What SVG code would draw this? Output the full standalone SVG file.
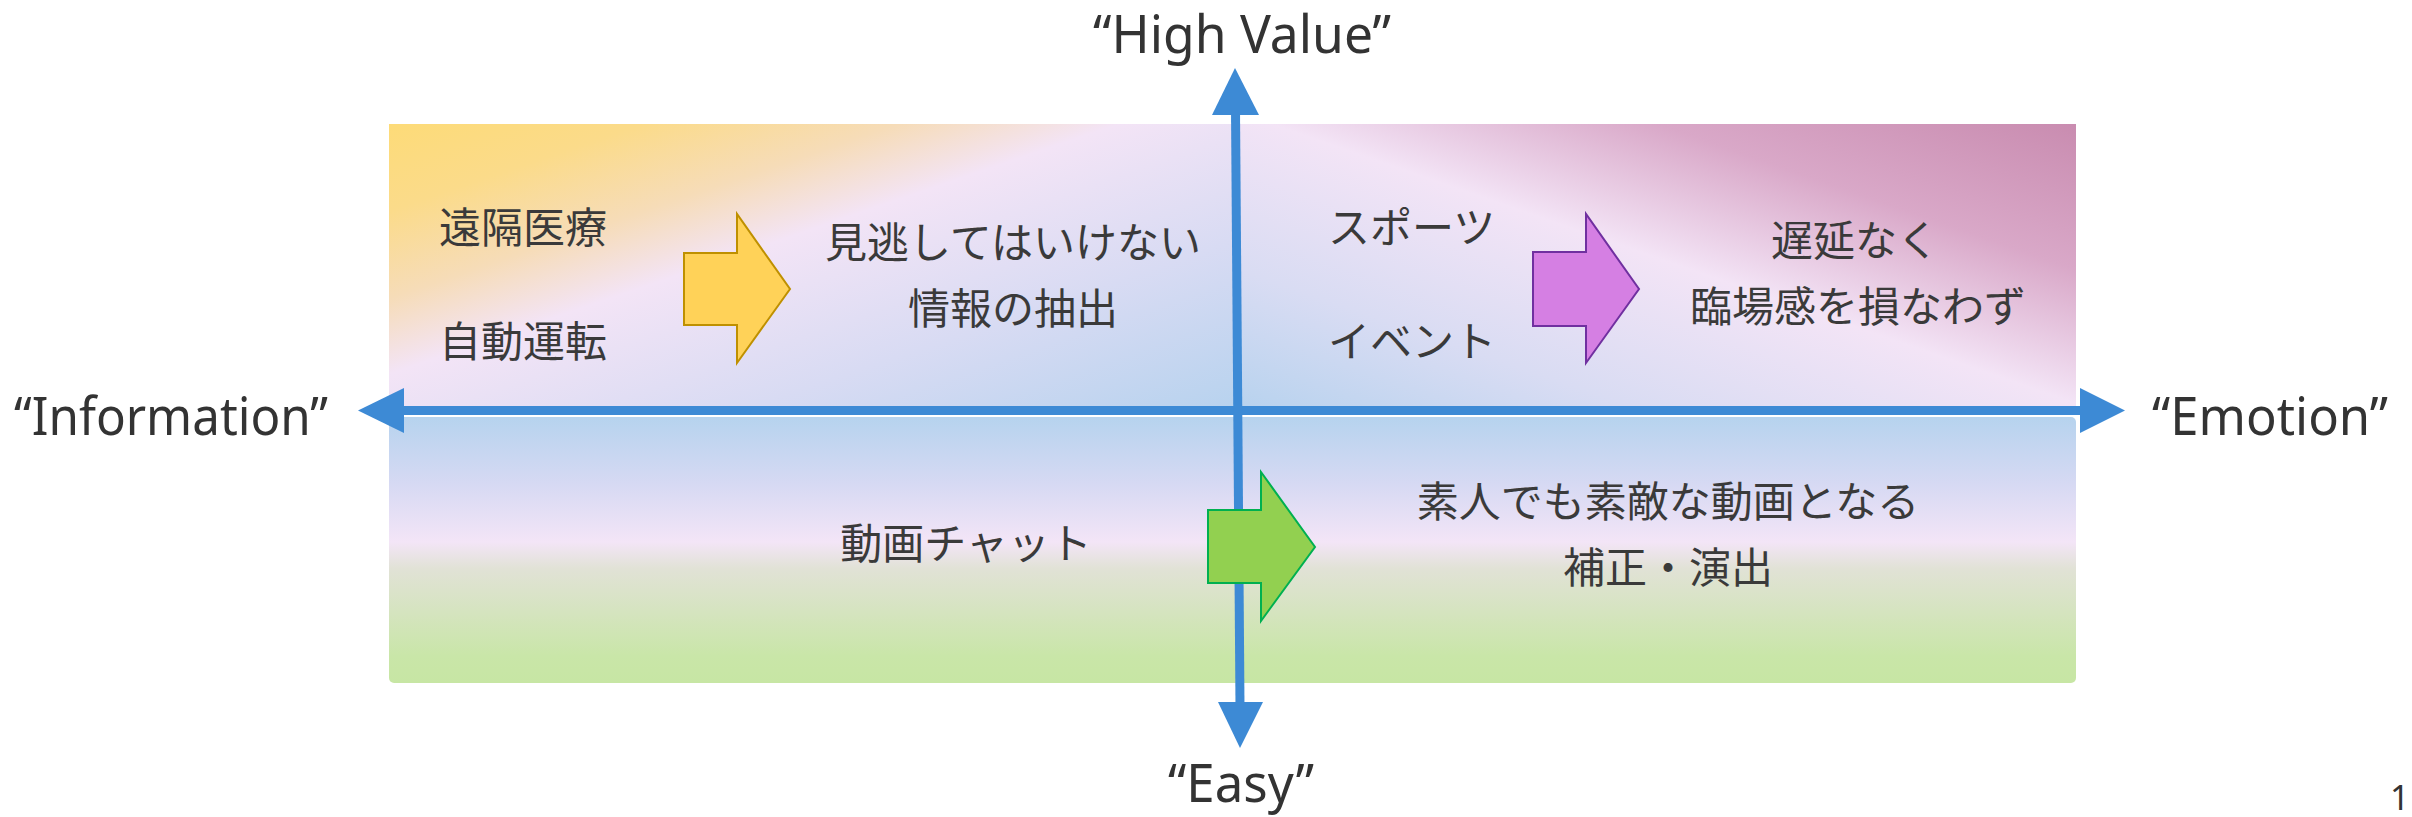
<svg xmlns="http://www.w3.org/2000/svg" width="2412" height="817" viewBox="0 0 2412 817">
<style>
.jp{font-family:"Noto Sans CJK JP","Noto Sans",sans-serif;font-size:42px;fill:#3a3a3a;dominant-baseline:central}
.mid{text-anchor:middle}
.lat{font-family:"Noto Sans","Open Sans",sans-serif;font-size:53px;fill:#333333}
.axis{stroke:#3d8ad5;stroke-width:9;fill:none}
.head{fill:#3d8ad5}
</style>
<defs>
<linearGradient id="gTL" x1="0" y1="0" x2="1" y2="1">
<stop offset="0" stop-color="#fddb78"/>
<stop offset="0.15" stop-color="#fbdb8a"/>
<stop offset="0.3" stop-color="#f6dcb8"/>
<stop offset="0.43" stop-color="#f3e4f6"/>
<stop offset="0.7" stop-color="#d8dbf3"/>
<stop offset="1" stop-color="#b6d2ee"/>
</linearGradient>
<linearGradient id="gTR" x1="0" y1="1" x2="1" y2="0">
<stop offset="0" stop-color="#b6d2ee"/>
<stop offset="0.25" stop-color="#d9dcf3"/>
<stop offset="0.52" stop-color="#f3e4f6"/>
<stop offset="0.75" stop-color="#d9a8c8"/>
<stop offset="1" stop-color="#c98cb0"/>
</linearGradient>
<linearGradient id="gB" x1="0" y1="0" x2="0" y2="1">
<stop offset="0" stop-color="#b6d3ee"/>
<stop offset="0.25" stop-color="#d6d9f3"/>
<stop offset="0.47" stop-color="#f3e5f7"/>
<stop offset="0.57" stop-color="#e1e2d6"/>
<stop offset="0.9" stop-color="#c9e6a8"/>
<stop offset="1" stop-color="#c7e6a4"/>
</linearGradient>
</defs>
<g id="quadrants">
<rect id="q-top-left" x="389" y="124" width="849" height="291" fill="url(#gTL)"/>
<rect id="q-top-right" x="1238" y="124" width="838" height="291" fill="url(#gTR)"/>
<rect id="q-bottom" x="389" y="417" width="1687" height="266" rx="5" fill="url(#gB)"/>
</g>
<g id="connectors">
<line class="axis" x1="400" y1="410.5" x2="2084" y2="410.5"/>
<polygon class="head" points="358,410.5 404,388 404,433"/>
<polygon class="head" points="2125,410.5 2080,388 2080,433"/>
<line class="axis" x1="1235.5" y1="110" x2="1240" y2="706"/>
<polygon class="head" points="1235,68 1212,115 1259,115"/>
<polygon class="head" points="1240,748 1218,702 1263,702"/>
</g>
<g id="labels">
<text class="lat" x="14" y="435" textLength="314" lengthAdjust="spacingAndGlyphs">“Information”</text>
<text class="lat" x="2152" y="435" textLength="236" lengthAdjust="spacingAndGlyphs">“Emotion”</text>
<text class="lat" x="1093" y="53" textLength="298" lengthAdjust="spacingAndGlyphs">“High Value”</text>
<text class="lat" x="1168" y="802" textLength="146" lengthAdjust="spacingAndGlyphs">“Easy”</text>
<text class="lat" x="2390" y="810" style="font-size:34px">1</text>
</g>
<g id="node-info-src">
<text class="jp" x="439" y="224">遠隔医療</text>
<text class="jp" x="439" y="338">自動運転</text>
</g>
<g id="arrow-yellow">
<polygon points="684,253 737,253 737,214 790,289 737,363 737,325 684,325" fill="#ffd258" stroke="#bf9000" stroke-width="2"/>
</g>
<g id="node-info-dst">
<text class="jp mid" x="1013" y="239">見逃してはいけない</text>
<text class="jp mid" x="1013" y="305">情報の抽出</text>
</g>
<g id="node-emo-src">
<text class="jp" x="1328" y="224">スポーツ</text>
<text class="jp" x="1328" y="338">イベント</text>
</g>
<g id="arrow-purple">
<polygon points="1533,252 1586,252 1586,214 1639,289 1586,363 1586,326 1533,326" fill="#d57fe3" stroke="#7030a0" stroke-width="2"/>
</g>
<g id="node-emo-dst">
<text class="jp mid" x="1855" y="237">遅延なく</text>
<text class="jp mid" x="1858" y="303">臨場感を損なわず</text>
</g>
<g id="node-easy-src">
<text class="jp mid" x="966" y="540">動画チャット</text>
</g>
<g id="arrow-green">
<polygon points="1208,510 1261,510 1261,472 1315,547 1261,621 1261,583 1208,583" fill="#92d050" stroke="#00b050" stroke-width="2"/>
</g>
<g id="node-easy-dst">
<text class="jp mid" x="1668" y="498">素人でも素敵な動画となる</text>
<text class="jp mid" x="1668" y="564">補正・演出</text>
</g>
</svg>
